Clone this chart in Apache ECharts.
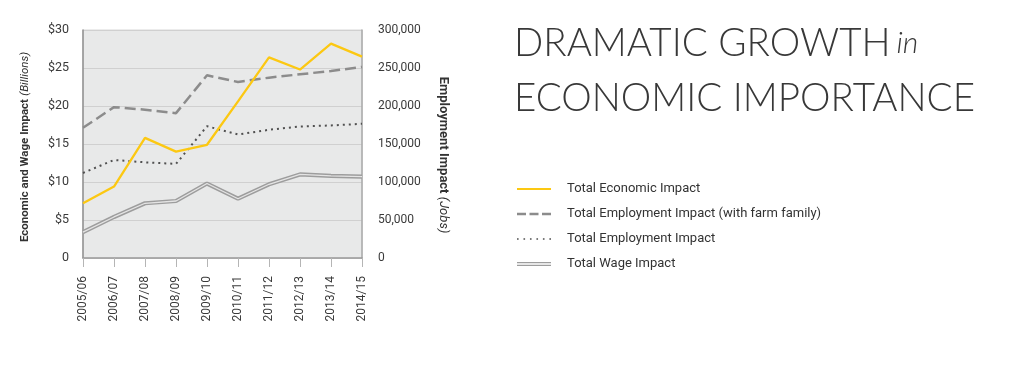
<!DOCTYPE html>
<html>
<head>
<meta charset="utf-8">
<script src="https://cdn.jsdelivr.net/npm/echarts@6/dist/echarts.min.js"></script>
<style>
html,body{margin:0;padding:0;background:#fff;}
#chart{width:1024px;height:370px;}
</style>
</head>
<body>
<div id="chart"></div>
<script>
const categories = ['2005/06','2006/07','2007/08','2008/09','2009/10','2010/11','2011/12','2012/13','2013/14','2014/15'];
const economicImpact = [7.2, 9.4, 15.8, 14.0, 14.9, 20.6, 26.4, 24.8, 28.2, 26.5];
const employmentFarmFamily = [171300, 198500, 195100, 190600, 240400, 231600, 237300, 241700, 246100, 251400];
const employmentImpact = [111900, 129000, 125900, 123800, 173400, 162500, 168700, 173000, 174400, 176600];
const wageImpact = [3.4, 5.4, 7.2, 7.5, 9.8, 7.8, 9.7, 11.0, 10.8, 10.7];
const leftTicks = [0, 5, 10, 15, 20, 25, 30];
const rightTicks = [0, 50000, 100000, 150000, 200000, 250000, 300000];

const FONT = "Roboto,'Open Sans',sans-serif";
const TITLE_FONT = "Lato, 'Open Sans', sans-serif";
const chart = echarts.init(document.getElementById('chart'), null, {renderer: 'canvas'});

chart.setOption({
  animation: false,
  backgroundColor: '#ffffff',
  title: [{
    text: 'DRAMATIC GROWTH{i|in}',
    left: 509, top: 19,
    textStyle: {
      fontFamily: TITLE_FONT, fontWeight: 300, fontSize: 38.5, color: '#383838',
      rich: { i: { fontFamily: TITLE_FONT, fontStyle: 'italic', fontWeight: 300, fontSize: 30, color: '#383838', padding: [0, 0, 0, 6], verticalAlign: 'middle' } }
    }
  }, {
    text: 'ECONOMIC IMPORTANCE',
    left: 509, top: 74,
    textStyle: { fontFamily: TITLE_FONT, fontWeight: 300, fontSize: 38.5, color: '#383838' }
  }],
  legend: {
    orient: 'vertical',
    left: 517, top: 182.5, padding: 0,
    itemWidth: 34, itemHeight: 14, itemGap: 12,
    textStyle: { fontFamily: FONT, fontSize: 13, color: '#333', padding: [0, 0, 0, 11] },
    data: [
      { name: 'Total Economic Impact', icon: 'path://M0,0H34V2.2H0Z' },
      { name: 'Total Employment Impact (with farm family)', icon: 'path://M0,0H9V2.4H0Z M12.5,0H21.5V2.4H12.5Z M25,0H34V2.4H25Z' },
      { name: 'Total Employment Impact', icon: 'path://M0,0H1.6V1.6H0Z M6.4,0H8V1.6H6.4Z M12.8,0H14.4V1.6H12.8Z M19.2,0H20.8V1.6H19.2Z M25.6,0H27.2V1.6H25.6Z M32,0H33.6V1.6H32Z' },
      { name: 'Total Wage Impact', icon: 'path://M0,0H34V1.3H0Z M0,2.7H34V4H0Z', itemStyle: { color: '#9d9d9d' } }
    ]
  },
  grid: {
    left: 83, right: 662, top: 30, bottom: 112,
    show: true, backgroundColor: '#e8e9e9', borderColor: '#d8d8d8', borderWidth: 1
  },
  xAxis: {
    type: 'category', data: categories, boundaryGap: false,
    axisLine: { show: true, lineStyle: { color: '#9a9a9a', width: 1.5 } },
    axisTick: { show: true, length: 9, lineStyle: { color: '#b5b5b5' } },
    axisLabel: { rotate: 90, margin: 18, fontFamily: FONT, fontSize: 12, color: '#3a3a3a', interval: 0 },
    splitLine: { show: false }
  },
  yAxis: [{
    type: 'value', min: 0, max: 30, interval: 5,
    name: '{b|Economic and Wage Impact} {i|(Billions)}',
    nameLocation: 'middle', nameGap: 52,
    nameTextStyle: {
      padding: [0, 6, 0, 0],
      rich: {
        b: { fontFamily: FONT, fontWeight: 'bold', fontSize: 11.5, color: '#333' },
        i: { fontFamily: FONT, fontStyle: 'italic', fontSize: 11.5, color: '#333' }
      }
    },
    axisLine: { show: true, lineStyle: { color: '#8f8f8f', width: 1.5 } },
    axisTick: { show: false },
    axisLabel: {
      margin: 14, fontFamily: FONT, fontSize: 12.5, color: '#3a3a3a',
      formatter: v => leftTicks.includes(v) ? (v === 0 ? '0' : '$' + v) : ''
    },
    splitLine: { show: true, lineStyle: { color: '#d0d0d0', width: 1 } }
  }, {
    type: 'value', min: 0, max: 300000, interval: 50000, position: 'right',
    name: '{b|Employment Impact} {i|(Jobs)}',
    nameLocation: 'middle', nameGap: 75, nameRotate: -90,
    nameTextStyle: {
      padding: [0, 0, 0, 22],
      rich: {
        b: { fontFamily: FONT, fontWeight: 'bold', fontSize: 13, color: '#333' },
        i: { fontFamily: FONT, fontStyle: 'italic', fontSize: 13, color: '#333' }
      }
    },
    axisLine: { show: true, lineStyle: { color: '#aaaaaa', width: 1.5 } },
    axisTick: { show: false },
    axisLabel: {
      margin: 16, fontFamily: FONT, fontSize: 12, color: '#3a3a3a',
      formatter: v => rightTicks.includes(v) ? (v === 0 ? '0' : v.toLocaleString('en-US')) : ''
    },
    splitLine: { show: false }
  }],
  series: [{
    name: 'Total Wage Impact', type: 'line', yAxisIndex: 0, data: wageImpact,
    symbol: 'none', lineStyle: { color: '#9d9d9d', width: 4.2 }, itemStyle: { color: '#9d9d9d' }, z: 2
  }, {
    name: 'Total Wage Impact (inner)', type: 'line', yAxisIndex: 0, data: wageImpact,
    symbol: 'none', lineStyle: { color: '#e4e4e4', width: 1.3 }, itemStyle: { color: '#e4e4e4' }, z: 3,
    silent: true
  }, {
    name: 'Total Employment Impact', type: 'line', yAxisIndex: 1, data: employmentImpact,
    symbol: 'none', lineStyle: { color: '#505050', width: 2, type: [2, 4] }, itemStyle: { color: '#505050' }, z: 4
  }, {
    name: 'Total Employment Impact (with farm family)', type: 'line', yAxisIndex: 1, data: employmentFarmFamily,
    symbol: 'none', lineStyle: { color: '#8c8c8c', width: 2.5, type: [11, 5] }, itemStyle: { color: '#8c8c8c' }, z: 5
  }, {
    name: 'Total Economic Impact', type: 'line', yAxisIndex: 0, data: economicImpact,
    symbol: 'none', lineStyle: { color: '#fcc812', width: 2.3 }, itemStyle: { color: '#fcc812' }, z: 6
  }]
});
</script>
</body>
</html>
